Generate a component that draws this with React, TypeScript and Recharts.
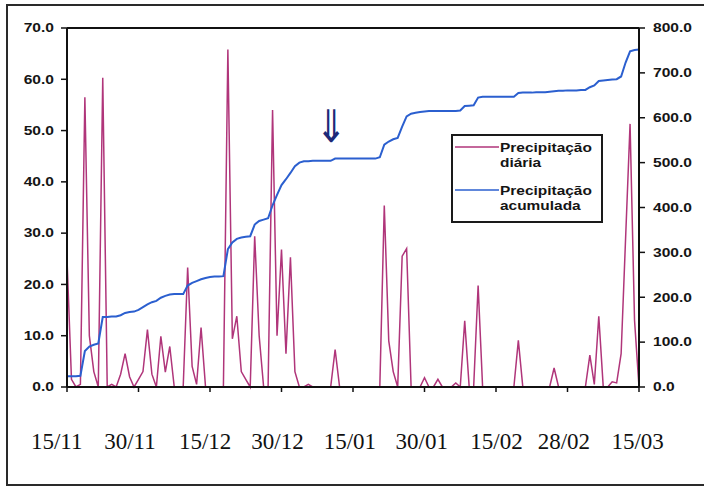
import React from "react";
import { ComposedChart, Line, XAxis, YAxis, ReferenceLine } from "recharts";

// daily rain (mm), one value per day starting 15/11
const dailyRain = [
  25, 1.5, 0, 0.5, 56.5, 10, 3, 0, 60.3, 0,
  0.5, 0, 2.5, 6.5, 2, 0, 1.5, 3, 11.2, 2.5,
  0, 9.9, 2.9, 7.9, 0, 0, 0, 23.3, 4, 0.5,
  11.6, 0, 0, 0, 0, 0, 65.8, 9.4, 13.8, 3,
  1.5, 0, 29.4, 10, 0, 0, 54, 10, 26.8, 6.5,
  25.3, 3, 0, 0, 0.5, 0, 0, 0, 0, 0,
  7.3, 0, 0, 0, 0, 0, 0, 0, 0, 0,
  0, 35.4, 9, 3, 0, 25.5, 27, 0, 0, 0,
  1.8, 0, 0, 1.5, 0, 0, 0, 0.8, 0, 12.9,
  0, 0, 19.8, 0, 0, 0, 0, 0, 0, 0,
  0, 9.1, 0, 0, 0, 0, 0, 0, 0, 3.7,
  0, 0, 0, 0, 0, 0, 0, 6.2, 0.5, 13.8,
  0, 0, 1, 0.8, 6.5, 29, 51.3, 13, 0,
];

// accumulated rain (mm)
const accumRain = [
  24, 24, 24, 25, 80, 90, 94, 97, 156, 156,
  157, 157, 160, 165, 167, 168, 172, 178, 184, 189,
  192, 199, 203, 206, 207, 207, 207, 226, 232, 236,
  240, 243, 245, 246, 246, 247, 307, 322, 330, 333,
  335, 336, 362, 370, 373, 376, 405, 428, 450, 463,
  477, 492, 500, 503, 503, 504, 504, 504, 504, 504,
  509, 509, 509, 509, 509, 509, 509, 509, 509, 509,
  512, 540, 547, 552, 555, 580, 603, 609, 611, 613,
  614, 615, 615, 615, 615, 615, 615, 615, 616, 626,
  627, 628, 645, 647, 647, 647, 647, 647, 647, 647,
  647, 655, 656, 656, 656, 657, 657, 657, 658, 659,
  660, 660, 661, 661, 661, 662, 662, 668, 672, 682,
  683, 684, 685, 686, 692, 723, 748, 751, 752,
];

const leftTicks = [0, 10, 20, 30, 40, 50, 60, 70];
const rightTicks = [0, 100, 200, 300, 400, 500, 600, 700, 800];
const dayTicks = [0, 16, 32, 48, 64, 80, 96, 112, 128];
const dateLabels = ["15/11", "30/11", "15/12", "30/12", "15/01", "30/01", "15/02", "28/02", "15/03"];
// where the date labels sit along the day axis
const datePositions = [-2.3, 14.1, 30.9, 47.1, 63.3, 79.4, 96.1, 111.2, 127.7];

const legendNames = [["Precipitação", "diária"], ["Precipitação", "acumulada"]];
const colors = ["#b0357a", "#2b5fcf"];

const data = dailyRain.map((v, i) => ({ day: i, diaria: v, acumulada: accumRain[i] }));

const labelFont = {
  fontFamily: "'Liberation Sans', Arial, sans-serif",
  fontWeight: 700,
  fontSize: 12,
  fill: "#151515",
};

const LeftTick = ({ x, y, payload }: any) => (
  <g transform={`translate(${x},${y}) scale(1.3,1)`}>
    <text x={0} y={0} dy="0.36em" textAnchor="end" style={labelFont}>
      {Number(payload.value).toFixed(1)}
    </text>
  </g>
);

const RightTick = ({ x, y, payload }: any) => (
  <g transform={`translate(${x},${y}) scale(1.3,1)`}>
    <text x={0} y={0} dy="0.36em" textAnchor="start" style={labelFont}>
      {Number(payload.value).toFixed(1)}
    </text>
  </g>
);

const DateTick = ({ x, y, index }: any) => (
  <text
    x={x}
    y={y}
    dy={32}
    textAnchor="middle"
    fontFamily="'Liberation Serif', 'Times New Roman', serif"
    fontSize={23}
    fill="#111"
  >
    {dateLabels[index]}
  </text>
);

const EmptyTick = () => <g />;

function LegendBox() {
  return (
    <svg width={152} height={89} style={{ position: "absolute", left: 451, top: 134 }}>
      <rect x={1} y={1} width={150} height={87} fill="#fff" stroke="#1a1a1a" strokeWidth={2} />
      {legendNames.map((lines, i) => (
        <g key={i} transform={`translate(0,${i * 43})`}>
          <line x1={4} x2={48} y1={13} y2={13} stroke={colors[i]} strokeWidth={1.5} />
          {lines.map((t, j) => (
            <g key={j} transform={`translate(49,${18 + j * 14.5}) scale(1.19,1)`}>
              <text x={0} y={0} style={{ ...labelFont, fontSize: 13 }}>
                {t}
              </text>
            </g>
          ))}
        </g>
      ))}
    </svg>
  );
}

export default function App() {
  return (
    <div style={{ position: "absolute", left: 0, top: 0, width: 704, height: 487, background: "#fff", overflow: "hidden" }}>
      <div
        style={{
          position: "absolute",
          left: 6,
          top: 4,
          width: 720,
          height: 482,
          boxSizing: "border-box",
          borderLeft: "2px solid #2a2a2a",
          borderTop: "2px solid #2a2a2a",
          borderBottom: "2px solid #2a2a2a",
        }}
      />
      <div style={{ position: "absolute", left: 0, top: 0 }}>
        <ComposedChart width={704} height={487} data={data} margin={{ top: 28, right: 0, bottom: 0, left: 0 }}>
          <XAxis
            dataKey="day"
            type="number"
            domain={[0, 128]}
            ticks={dayTicks}
            interval={0}
            height={30}
            tickSize={5}
            tick={EmptyTick}
            axisLine={{ stroke: "#111", strokeWidth: 2 }}
            tickLine={{ stroke: "#111", strokeWidth: 1.5 }}
          />
          <XAxis
            xAxisId="dates"
            type="number"
            domain={[0, 128]}
            allowDataOverflow
            ticks={datePositions}
            interval={0}
            height={70}
            tickSize={0}
            tickMargin={0}
            axisLine={false}
            tickLine={false}
            tick={DateTick}
          />
          <YAxis
            yAxisId="left"
            domain={[0, 70]}
            ticks={leftTicks}
            interval={0}
            width={67}
            tickSize={6}
            tickMargin={7}
            tick={LeftTick}
            axisLine={{ stroke: "#111", strokeWidth: 2 }}
            tickLine={{ stroke: "#111", strokeWidth: 1.5 }}
          />
          <YAxis
            yAxisId="right"
            orientation="right"
            domain={[0, 800]}
            ticks={rightTicks}
            interval={0}
            width={65}
            tickSize={6}
            tickMargin={8}
            tick={RightTick}
            axisLine={{ stroke: "#111", strokeWidth: 2 }}
            tickLine={{ stroke: "#111", strokeWidth: 1.5 }}
          />
          <ReferenceLine yAxisId="left" y={70} stroke="#111" strokeWidth={2} />
          <Line
            yAxisId="left"
            type="linear"
            dataKey="diaria"
            stroke={colors[0]}
            strokeWidth={1.5}
            dot={false}
            isAnimationActive={false}
          />
          <Line
            yAxisId="right"
            type="linear"
            dataKey="acumulada"
            stroke={colors[1]}
            strokeWidth={2}
            dot={false}
            isAnimationActive={false}
          />
        </ComposedChart>
      </div>
      <LegendBox />
      <svg width={60} height={70} style={{ position: "absolute", left: 301, top: 90 }}>
        <g transform="translate(30,52) scale(1.35,1.6)">
          <text x={0} y={0} textAnchor="middle" fontFamily="'DejaVu Sans', sans-serif" fontSize={28} fill="#1c2a78">
            ⇓
          </text>
        </g>
      </svg>
    </div>
  );
}
